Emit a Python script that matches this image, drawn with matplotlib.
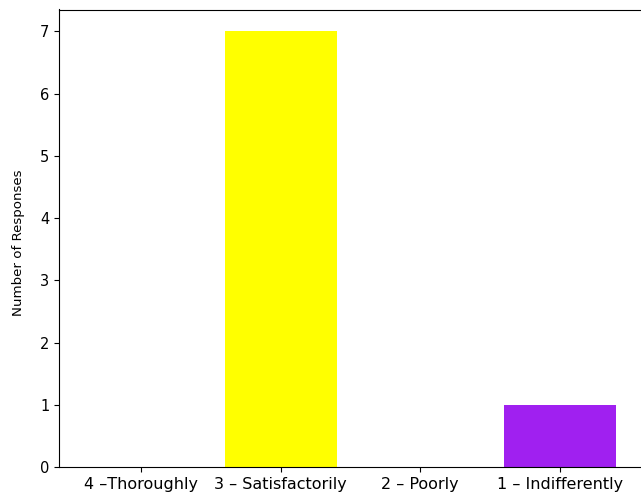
import matplotlib
matplotlib.use("Agg")
import matplotlib.pyplot as plt

# survey answers
categories = ["4 \u2013Thoroughly", "3 \u2013 Satisfactorily", "2 \u2013 Poorly", "1 \u2013 Indifferently"]
counts = [0, 7, 0, 1]
bar_colors = ["#2ca02c", "#ffff00", "#1f77b4", "#a020f0"]

fig = plt.figure(figsize=(6.41, 4.92), dpi=100)
ax = fig.add_axes([59 / 641, 25 / 492, 583 / 641, 457.5 / 492])

ax.bar(categories, counts, color=bar_colors)
ax.set_ylabel("Number of Responses", fontsize=9.6)
ax.yaxis.set_label_coords(-0.058, 0.49)
ax.tick_params(axis="x", labelsize=11.5)
ax.tick_params(axis="y", labelsize=10.5)

fig.savefig("out.png", dpi=100)
